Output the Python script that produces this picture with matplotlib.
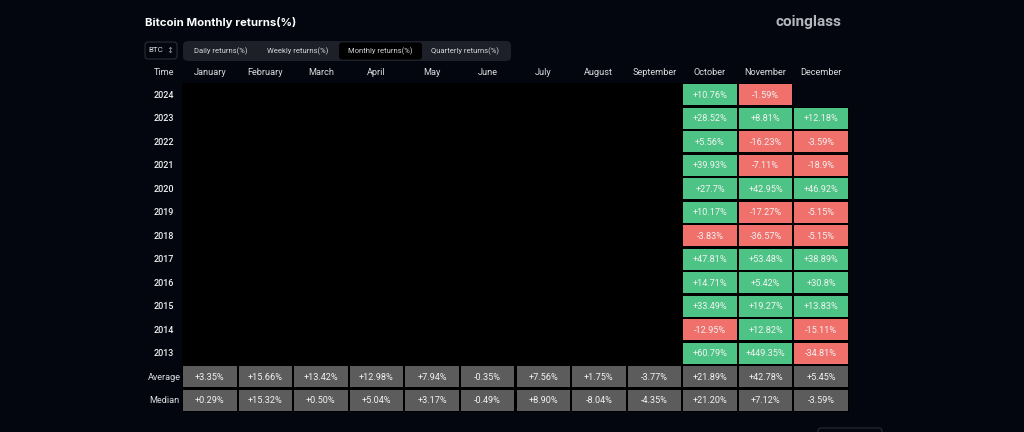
import matplotlib
matplotlib.use("Agg")
import matplotlib.pyplot as plt
from matplotlib.patches import Rectangle, FancyBboxPatch

# ---------------- data ----------------
years = ["2024", "2023", "2022", "2021", "2020", "2019", "2018",
         "2017", "2016", "2015", "2014", "2013"]
months = ["January", "February", "March", "April", "May", "June", "July",
          "August", "September", "October", "November", "December"]
oct_returns = [10.76, 28.52, 5.56, 39.93, 27.7, 10.17, -3.83, 47.81, 14.71, 33.49, -12.95, 60.79]
nov_returns = [-1.59, 8.81, -16.23, -7.11, 42.95, -17.27, -36.57, 53.48, 5.42, 19.27, 12.82, 449.35]
dec_returns = [None, 12.18, -3.59, -18.9, 46.92, -5.15, -5.15, 38.89, 30.8, 13.83, -15.11, -34.81]
average = [3.35, 15.66, 13.42, 12.98, 7.94, -0.35, 7.56, 1.75, -3.77, 21.89, 42.78, 5.45]
median = [0.29, 15.32, 0.50, 5.04, 3.17, -0.49, 8.90, -8.04, -4.35, 21.20, 7.12, -3.59]
tabs = ["Daily returns(%)", "Weekly returns(%)", "Monthly returns(%)", "Quarterly returns(%)"]
title = "Bitcoin Monthly returns(%)"
brand = "coinglass"

# ---------------- style ----------------
BG = "#03060f"
GREEN = "#4dc485"
RED = "#f0716c"
GRAY = "#5c5c5c"
TXT = "#f2f2f2"
HDR = "#dcdde0"
FONT = ["Roboto", "DejaVu Sans"]

W, H = 1024, 432
fig = plt.figure(figsize=(W / 100, H / 100), dpi=100, facecolor=BG)

# background axes in pixel units (for UI chrome)
bg = fig.add_axes([0, 0, 1, 1])
bg.set_xlim(0, W)
bg.set_ylim(H, 0)
bg.axis("off")
bg.set_facecolor(BG)

bg.text(145, 22, title, color="#ffffff", fontsize=8.2, fontweight="bold",
        family=["Inter", "DejaVu Sans"], ha="left", va="center")
bg.text(808, 22, brand, color="#b4b7bd", fontsize=11, fontweight="bold",
        family=FONT, ha="center", va="center")

# BTC selector
bg.add_patch(FancyBboxPatch((145, 42), 32, 17, boxstyle="round,pad=0,rounding_size=3",
                            fc=BG, ec="#2a2d35", lw=0.8))
bg.text(156, 50.5, "BTC", color=HDR, fontsize=5.8, family=FONT, ha="center", va="center")
bg.text(169.5, 50.5, "\u2195", color="#9a9ca2", fontsize=6, family=["DejaVu Sans"],
        ha="center", va="center")

# tab group
bg.add_patch(FancyBboxPatch((183, 41), 328, 20, boxstyle="round,pad=0,rounding_size=5",
                            fc="#1d2028", ec="none"))
bg.add_patch(FancyBboxPatch((339, 42.5), 83, 17, boxstyle="round,pad=0,rounding_size=3",
                            fc="#000000", ec="none"))
tab_x = [221, 298, 380, 465]
for tx, label in zip(tab_x, tabs):
    bg.text(tx, 51, label, color="#d4d6da", fontsize=5.5, family=FONT,
            ha="center", va="center")

# partial control at bottom
bg.add_patch(FancyBboxPatch((818, 428), 64, 14, boxstyle="round,pad=0,rounding_size=3",
                            fc=BG, ec="#2a2d35", lw=0.8))

# ---------------- table axes ----------------
x0, x1 = 182, 849
y0, y1 = 83, 412
ax = fig.add_axes([x0 / W, 1 - y1 / H, (x1 - x0) / W, (y1 - y0) / H])
ncol = len(months)
nrow = len(years) + 2
ax.set_xlim(0, ncol)
ax.set_ylim(nrow, 0)
ax.axis("off")

# black body behind cells
ax.add_patch(Rectangle((0, 0), ncol, nrow, fc="#000000", ec="none", zorder=0))

gx, gy = 0.018, 0.045


def cell(col, row, color, label):
    ax.add_patch(Rectangle((col + gx, row + gy), 1 - 2 * gx, 1 - 2 * gy,
                           fc=color, ec="none", zorder=1))
    ax.text(col + 0.5, row + 0.52, label, color=TXT, fontsize=6.6, family=FONT,
            ha="center", va="center", zorder=2)


for col, series in zip([9, 10, 11], [oct_returns, nov_returns, dec_returns]):
    for row, v in enumerate(series):
        if v is None:
            ax.add_patch(Rectangle((col, row), 1, 1, fc=BG, ec="none", zorder=0.5))
            continue
        cell(col, row, GREEN if v >= 0 else RED, f"{v:+g}%")

nyr = len(years)
for col, v in enumerate(average):
    cell(col, nyr, GRAY, f"{v:+.2f}%")
for col, v in enumerate(median):
    cell(col, nyr + 1, GRAY, f"{v:+.2f}%")

# header and row labels
lab_x = (164 - x0) / ((x1 - x0) / ncol)
ax.text(lab_x, -0.43, "Time", color=HDR, fontsize=6.6, family=FONT,
        ha="center", va="center", clip_on=False)
for j, m in enumerate(months):
    ax.text(j + 0.5, -0.43, m, color=HDR, fontsize=6.6, family=FONT,
            ha="center", va="center", clip_on=False)
for i, y in enumerate(years):
    ax.text(lab_x, i + 0.52, y, color=TXT, fontsize=6.5, fontweight="medium",
            family=FONT, ha="center", va="center", clip_on=False)
ax.text(lab_x, nyr + 0.52, "Average", color=HDR, fontsize=6.6, family=FONT,
        ha="center", va="center", clip_on=False)
ax.text(lab_x, nyr + 1.52, "Median", color=HDR, fontsize=6.6, family=FONT,
        ha="center", va="center", clip_on=False)

fig.savefig("out.png", dpi=100, facecolor=BG)
